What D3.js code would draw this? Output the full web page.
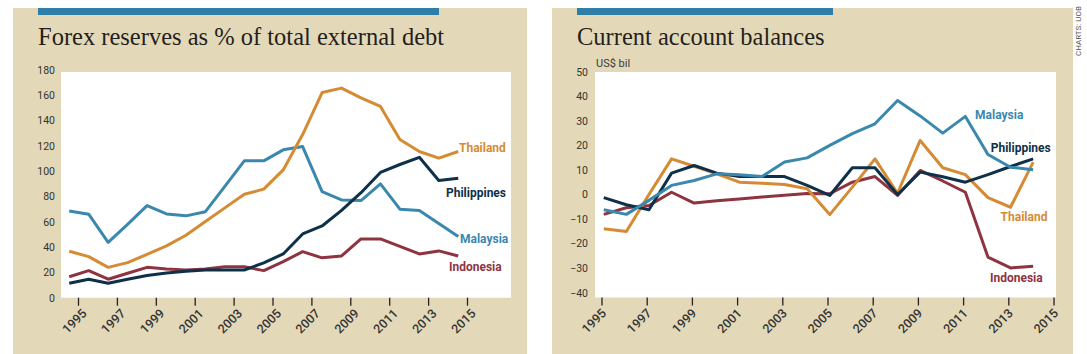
<!DOCTYPE html>
<html>
<head>
<meta charset="utf-8">
<script src="https://cdn.jsdelivr.net/npm/d3@7"></script>
<style>
  body { margin: 0; background: #fff; }
  svg { display: block; }
  .title { font-family: "Liberation Serif", "DejaVu Serif", serif; fill: #231f20; }
  .axis text { font-family: Roboto, "DejaVu Sans", sans-serif; fill: #333; }
  .series-label { font-family: Roboto, "DejaVu Sans", sans-serif; font-weight: 700; font-size: 12px; }
  .line { fill: none; stroke-width: 3px; stroke-linejoin: round; }
</style>
</head>
<body>
<svg id="chart" width="1087" height="354"></svg>
<script>
// ---- data: forex reserves as % of total external debt ----
const reserveYears = [1995, 1996, 1997, 1998, 1999, 2000, 2001, 2002, 2003, 2004, 2005,
  2006, 2007, 2008, 2009, 2010, 2011, 2012, 2013, 2014, 2015];
const thailandReserves = [36.7, 32.5, 24, 27.7, 34.3, 41, 49.4, 60.2, 71, 81.8, 85.8,
  101, 129, 162.2, 165.7, 158, 151.2, 125, 115.6, 110.3, 115.6];
const philippinesReserves = [11.4, 14.6, 11.4, 14.6, 17.5, 19.5, 21, 21.9, 21.9, 21.9, 27.5,
  34.6, 50.4, 56.7, 69, 83, 99, 105.3, 111, 92.6, 94.5];
const malaysiaReserves = [68.6, 66, 43.8, 58, 72.8, 66.2, 64.7, 68, 88, 108.2, 108.2,
  116.9, 119.5, 83.9, 77.3, 76.8, 90, 70, 68.9, 58.6, 48.3];
const indonesiaReserves = [16.6, 21.4, 14.6, 19.3, 24, 22.7, 21.9, 22.7, 24.5, 24.5, 21.4,
  28.5, 36.4, 31.5, 33, 46.5, 46.5, 40.5, 34.6, 37, 33];
const reserveTicks = [0, 20, 40, 60, 80, 100, 120, 140, 160, 180];

// ---- data: current account balances, US$ bil ----
const balanceYears = [1995, 1996, 1997, 1998, 1999, 2000, 2001, 2002, 2003, 2004,
  2005, 2006, 2007, 2008, 2009, 2010, 2011, 2012, 2013, 2014];
const malaysiaBalance = [-6.2, -8.1, -2.4, 3.7, 5.7, 8.4, 8, 7.3, 13.2, 14.9,
  20, 24.8, 28.8, 38.3, 32, 25, 31.8, 16.3, 11.1, 10.1];
const philippinesBalance = [-1.3, -4.2, -6.2, 8.7, 11.8, 8.7, 7.3, 7.3, 7.3, 3.7,
  -0.4, 10.9, 10.9, 0, 9.1, 7.2, 5, 8.1, 11.4, 14.5];
const thailandBalance = [-14, -15.1, 0, 14.5, 11.5, 8.4, 5, 4.6, 4.1, 2.3,
  -8.2, 3, 14.5, 0.5, 22, 10.9, 8.1, -1.3, -5.2, 13.2];
const indonesiaBalance = [-8.1, -5.4, -4.5, 0.9, -3.5, -2.6, -1.8, -1, -0.3, 0.4,
  0.3, 5, 7.3, -0.4, 9.8, 5.5, 0.9, -25.5, -29.9, -29.2];
const balanceTicks = [-40, -30, -20, -10, 0, 10, 20, 30, 40, 50];

const yearTicks = [1995, 1997, 1999, 2001, 2003, 2005, 2007, 2009, 2011, 2013, 2015];

const colors = {
  Thailand: "#d58b34",
  Philippines: "#0f3049",
  Malaysia: "#3a88ad",
  Indonesia: "#8e3440"
};

const svg = d3.select("#chart");

function drawPanel(p) {
  const g = svg.append("g");

  // beige panel + blue strip
  g.append("rect")
    .attr("x", p.panel[0]).attr("y", 8)
    .attr("width", p.panel[1] - p.panel[0]).attr("height", 354 - 8)
    .attr("fill", "#e3d9b9");
  g.append("rect")
    .attr("x", p.bar[0]).attr("y", 8)
    .attr("width", p.bar[1] - p.bar[0]).attr("height", 7)
    .attr("fill", "#2f7ea8");

  g.append("text")
    .attr("class", "title")
    .attr("x", p.bar[0]).attr("y", 45)
    .attr("font-size", 24.5)
    .text(p.title);

  // scales
  const x = d3.scaleLinear().domain([1995, 2015]).range(p.xRange);
  const y = d3.scaleLinear().domain(p.yDomain).range(p.yRange);

  // white plot area
  g.append("rect")
    .attr("x", p.plot[0]).attr("y", p.plot[1])
    .attr("width", p.plot[2] - p.plot[0]).attr("height", p.plot[3] - p.plot[1])
    .attr("fill", "#fff");

  // y axis
  const yAxis = g.append("g")
    .attr("class", "axis")
    .attr("transform", "translate(" + p.plot[0] + ",0)")
    .call(d3.axisLeft(y).tickValues(p.yTicks).tickSize(0).tickPadding(p.yPad));
  yAxis.select(".domain").remove();
  yAxis.selectAll("text").attr("font-size", 10.5).attr("fill", "#3a3a3a");

  // x axis
  const xAxis = g.append("g")
    .attr("class", "axis")
    .attr("transform", "translate(0," + p.plot[3] + ")")
    .call(d3.axisBottom(x).tickValues(yearTicks).tickSize(8).tickFormat(d3.format("d")));
  xAxis.select(".domain").remove();
  xAxis.selectAll(".tick line").attr("stroke", "#222").attr("stroke-width", 1.3);
  xAxis.selectAll("text")
    .attr("x", 0).attr("y", 0).attr("dy", 0)
    .attr("text-anchor", "end")
    .attr("font-size", 12.5)
    .attr("font-weight", 500)
    .attr("fill", "#1a1a1a")
    .attr("transform", "translate(" + p.labelDx + ",16.5) rotate(-45)");

  if (p.unit) {
    g.append("text")
      .attr("class", "axis")
      .attr("x", p.plot[0] + 1).attr("y", 67)
      .attr("font-family", "Roboto, sans-serif")
      .attr("font-size", 11)
      .attr("fill", "#3a3a3a")
      .text(p.unit);
  }

  // lines
  const line = d3.line()
    .x((d, i) => x(p.years[i] + p.offset))
    .y(d => y(d));

  p.series.forEach(s => {
    g.append("path")
      .datum(s.values)
      .attr("class", "line")
      .attr("stroke", colors[s.name])
      .attr("d", line);
  });

  p.series.forEach(s => {
    g.append("text")
      .attr("class", "series-label")
      .attr("x", x(s.label[0]))
      .attr("y", y(s.label[1]))
      .attr("dy", "0.35em")
      .attr("fill", colors[s.name])
      .text(s.name);
  });
}

drawPanel({
  title: "Forex reserves as % of total external debt",
  panel: [13, 527],
  bar: [38, 439],
  plot: [61, 72, 511, 297.7],
  xRange: [78, 467],
  yDomain: [0, 180],
  yRange: [297.7, 70],
  yTicks: reserveTicks,
  yPad: 6,
  labelDx: 9,
  years: reserveYears,
  offset: -0.45,
  series: [
    { name: "Indonesia", values: indonesiaReserves, label: [2014.07, 24.3] },
    { name: "Malaysia", values: malaysiaReserves, label: [2014.64, 46.5] },
    { name: "Philippines", values: philippinesReserves, label: [2013.92, 83.1] },
    { name: "Thailand", values: thailandReserves, label: [2014.59, 118.5] }
  ]
});

drawPanel({
  title: "Current account balances",
  panel: [552, 1073],
  bar: [577, 833],
  plot: [595, 72, 1056, 297.5],
  xRange: [601.5, 1053.5],
  yDomain: [-40, 50],
  yRange: [292.7, 71.7],
  yTicks: balanceTicks,
  yPad: 7,
  labelDx: 5,
  unit: "US$ bil",
  years: balanceYears,
  offset: 0.1,
  series: [
    { name: "Indonesia", values: indonesiaBalance, label: [2012.19, -34.1] },
    { name: "Thailand", values: thailandBalance, label: [2012.66, -9] },
    { name: "Philippines", values: philippinesBalance, label: [2012.22, 19.1] },
    { name: "Malaysia", values: malaysiaBalance, label: [2011.53, 32.5] }
  ]
});

// source credit
svg.append("text")
  .attr("transform", "translate(1081,56) rotate(-90)")
  .attr("font-family", "Roboto, sans-serif")
  .attr("font-size", 8)
  .attr("fill", "#555")
  .text("CHARTS: UOB");
</script>
</body>
</html>
